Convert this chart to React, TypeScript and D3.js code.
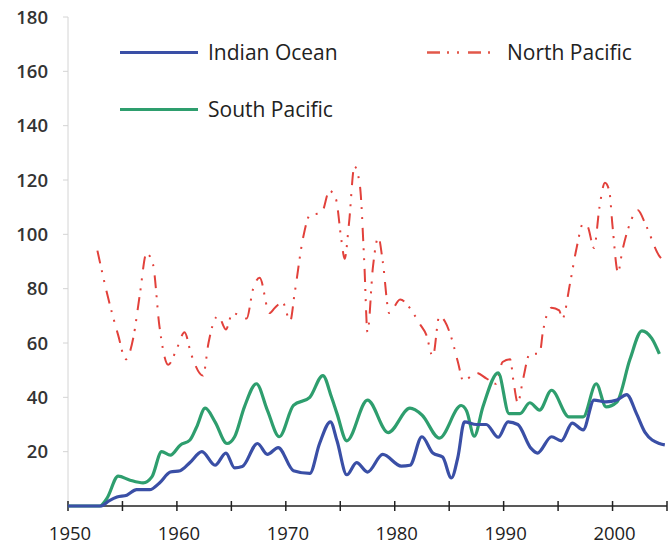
import React, { useEffect, useRef } from 'react';
import * as d3 from 'd3';

// [year, value] pairs
const indianOcean: [number, number][] = [
  [1950, 0], [1953, 0], [1953.8, 2], [1954.5, 3.3], [1955.4, 4], [1956.3, 6], [1957.5, 6],
  [1958.4, 8.5], [1959.4, 12.5], [1960.3, 13], [1961.2, 16], [1962.3, 20], [1963.5, 15],
  [1964.5, 19.5], [1965.3, 14], [1966, 14.5], [1967.4, 23], [1968.3, 19], [1969.3, 21.5],
  [1970.7, 13], [1972.2, 12], [1973.1, 23], [1974.1, 31], [1974.7, 24], [1975.6, 11.5],
  [1976.5, 16], [1977.5, 12.5], [1978.9, 19], [1980.6, 14.7], [1981.4, 15], [1982.5, 25.5],
  [1983.5, 19.5], [1984.4, 18], [1985.2, 10.3], [1985.8, 18], [1986.4, 31], [1987.5, 30],
  [1988.4, 30], [1989.5, 25.3], [1990.4, 31], [1991.3, 30], [1992.5, 21.3], [1993.1, 19.5],
  [1994.4, 25.5], [1995.3, 24], [1996.3, 30.5], [1997.3, 28], [1998.3, 39], [1999.4, 38.3],
  [2000.4, 39], [2001.3, 41], [2002.2, 34], [2003, 27], [2004.3, 23], [2004.8, 22.5],
];

const southPacific: [number, number][] = [
  [1950, 0], [1952.9, 0], [1953.6, 3], [1954.6, 11], [1955.7, 9.5], [1956.9, 8.5],
  [1957.7, 10.7], [1958.6, 20], [1959.4, 18.7], [1960.3, 22.4], [1961.2, 24.3], [1961.8, 29],
  [1962.6, 36], [1963.5, 31], [1964.6, 23], [1965.3, 25.5], [1966.2, 36.5], [1967.3, 45],
  [1968.3, 35.3], [1969.4, 25.5], [1970.7, 37], [1972.2, 40], [1973.4, 48], [1974.2, 40],
  [1974.7, 34], [1975.6, 24], [1977.5, 39], [1979.4, 27], [1981.4, 36], [1982.5, 33.5],
  [1984.1, 25], [1986.1, 37], [1986.6, 35], [1987.3, 25.7], [1988.1, 36.5], [1989.5, 49],
  [1990.5, 34], [1991.5, 34], [1992.4, 38], [1993.3, 35.3], [1994.4, 42.6], [1996, 32.8],
  [1997.3, 32.8], [1998.5, 45], [1999.4, 36.5], [2000.4, 38.3], [2001.6, 54], [2002.7, 64.5],
  [2003.6, 61.7], [2004.3, 56],
];

const northPacific: [number, number][] = [
  [1952.7, 94], [1953.6, 78], [1954.6, 63], [1955.3, 54], [1956, 62], [1956.6, 78],
  [1957.2, 93], [1957.8, 89], [1958.4, 66], [1959.2, 52], [1960, 58], [1960.7, 64],
  [1961.3, 56], [1962.4, 48], [1962.9, 60], [1963.4, 68], [1963.8, 70], [1964.5, 65],
  [1965.1, 71], [1966.4, 69], [1967, 80], [1967.6, 84], [1968.5, 71], [1969, 73],
  [1969.7, 75], [1970.4, 68], [1970.8, 78], [1971.6, 99], [1972.2, 107], [1973.3, 108],
  [1974, 116], [1974.6, 113], [1975.1, 98], [1975.4, 91], [1975.8, 104], [1976.3, 125],
  [1976.8, 118], [1977.2, 90], [1977.5, 64], [1978, 88], [1978.5, 99], [1978.9, 90],
  [1979.5, 71], [1980.5, 76], [1981.7, 71], [1982.3, 67], [1982.9, 63], [1983.5, 55],
  [1984.1, 70], [1984.6, 68], [1985.2, 62], [1985.8, 53], [1986.3, 46], [1987.5, 49],
  [1988.4, 47], [1989.3, 45], [1989.9, 53], [1990.6, 54], [1990.9, 46], [1991.3, 38],
  [1991.8, 47], [1992.4, 56], [1993.3, 56], [1993.6, 64], [1994.4, 73], [1995.1, 72],
  [1995.4, 69], [1996.1, 82], [1996.7, 95], [1997.3, 104], [1997.7, 103], [1998.3, 95],
  [1998.8, 110], [1999.3, 119], [1999.7, 116], [2000, 103], [2000.5, 86], [2000.9, 94],
  [2001.6, 104], [2002.3, 109], [2003.1, 103], [2004.3, 92], [2004.8, 90],
];

const yTicks = [20, 40, 60, 80, 100, 120, 140, 160, 180];
const xTicks = [1950, 1955, 1960, 1965, 1970, 1975, 1980, 1985, 1990, 1995, 2000, 2005];
const xLabels = [1950, 1960, 1970, 1980, 1990, 2000];

const FONT = '"Open Sans", "DejaVu Sans", sans-serif';

export default function App() {
  const ref = useRef<SVGSVGElement>(null);

  useEffect(() => {
    const width = 669;
    const height = 548;
    const m = { left: 68, right: 2, top: 17, bottom: 42 };

    const svg = d3.select(ref.current);
    svg.selectAll('*').remove();

    const x = d3.scaleLinear().domain([1950, 2005]).range([m.left, width - m.right]);
    const y = d3.scaleLinear().domain([0, 180]).range([height - m.bottom, m.top]);

    // y axis (light grey)
    svg.append('line')
      .attr('x1', x(1950)).attr('x2', x(1950))
      .attr('y1', y(180)).attr('y2', y(0))
      .attr('stroke', '#d4d4d4').attr('stroke-width', 1);

    yTicks.forEach(t => {
      svg.append('line')
        .attr('x1', x(1950) - 5).attr('x2', x(1950))
        .attr('y1', y(t)).attr('y2', y(t))
        .attr('stroke', '#d4d4d4');
      svg.append('text')
        .attr('x', 48).attr('y', y(t))
        .attr('dy', '0.36em')
        .attr('text-anchor', 'end')
        .attr('font-family', FONT)
        .attr('font-size', 18.5)
        .attr('font-weight', 600)
        .attr('fill', '#333')
        .text(t);
    });

    // x axis
    svg.append('line')
      .attr('x1', x(1950)).attr('x2', x(2005))
      .attr('y1', y(0)).attr('y2', y(0))
      .attr('stroke', '#222').attr('stroke-width', 1.5);

    xTicks.forEach(t => {
      svg.append('line')
        .attr('x1', x(t)).attr('x2', x(t))
        .attr('y1', y(0) - 5).attr('y2', y(0) + 5)
        .attr('stroke', '#222').attr('stroke-width', 1.5);
    });

    xLabels.forEach(t => {
      svg.append('text')
        .attr('x', x(t) + 2).attr('y', 540)
        .attr('text-anchor', 'middle')
        .attr('font-family', FONT)
        .attr('font-size', 18.5)
        .attr('font-weight', 500)
        .attr('fill', '#222')
        .text(t);
    });

    const line = d3.line<[number, number]>()
      .x(d => x(d[0]))
      .y(d => y(d[1]))
      .curve(d3.curveMonotoneX);

    const redDash = '13,7,2,8,2,9';

    svg.append('path')
      .datum(northPacific)
      .attr('d', line)
      .attr('fill', 'none')
      .attr('stroke', '#e2413b')
      .attr('stroke-width', 2)
      .attr('stroke-dasharray', redDash);

    svg.append('path')
      .datum(southPacific)
      .attr('d', line)
      .attr('fill', 'none')
      .attr('stroke', '#2e9e6e')
      .attr('stroke-width', 3.2)
      .attr('stroke-linejoin', 'round');

    svg.append('path')
      .datum(indianOcean)
      .attr('d', line)
      .attr('fill', 'none')
      .attr('stroke', '#3a4fa6')
      .attr('stroke-width', 3.2)
      .attr('stroke-linejoin', 'round');

    // legend
    const legend = [
      { name: 'Indian Ocean', color: '#3a4fa6', dash: null, lx: 120, lw: 78, tx: 208, ly: 52.5, w: 3 },
      { name: 'North Pacific', color: '#e2584a', dash: redDash, lx: 427, lw: 68, tx: 507, ly: 52.5, w: 2.5 },
      { name: 'South Pacific', color: '#2e9e6e', dash: null, lx: 120, lw: 78, tx: 208, ly: 109.5, w: 3 },
    ];

    legend.forEach(l => {
      const ln = svg.append('line')
        .attr('x1', l.lx).attr('x2', l.lx + l.lw)
        .attr('y1', l.ly).attr('y2', l.ly)
        .attr('stroke', l.color)
        .attr('stroke-width', l.w);
      if (l.dash) ln.attr('stroke-dasharray', l.dash);
      svg.append('text')
        .attr('x', l.tx).attr('y', l.ly)
        .attr('dy', '0.36em')
        .attr('font-family', FONT)
        .attr('font-size', 21)
        .attr('fill', '#222')
        .text(l.name);
    });
  }, []);

  return (
    <svg
      ref={ref}
      width={669}
      height={548}
      style={{ position: 'absolute', left: 0, top: 0, background: '#fff' }}
    />
  );
}
